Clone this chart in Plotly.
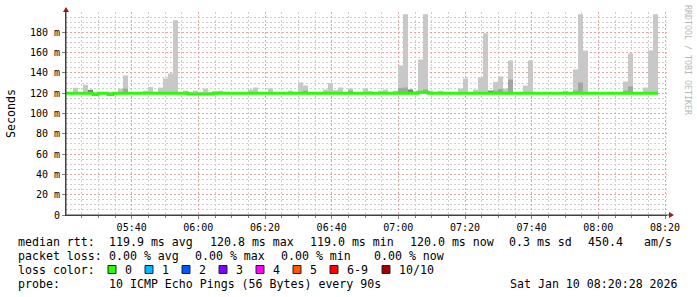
import plotly.graph_objects as go
from datetime import datetime, timedelta

# ---------------- data ----------------
FIRST_STEP = "2026-01-10 05:19:24"
STEP_SECONDS = 90
SMOKE_BASE_MS = 119.5

median_ms = [
    120.0, 120.0, 120.0, 120.0, 120.0, 120.0, 118.8, 120.0, 120.0, 118.8,
    120.0, 120.0, 120.0, 120.0, 120.0, 120.0, 120.0, 120.0, 120.0, 120.0,
    120.0, 120.0, 120.0, 120.0, 120.0, 119.2, 119.2, 119.2, 119.2, 119.2,
    120.0, 120.0, 120.0, 120.0, 120.0, 120.0, 120.0, 120.0, 120.0, 120.0,
    120.0, 120.0, 120.0, 120.0, 120.0, 120.0, 120.0, 120.0, 120.0, 120.0,
    120.0, 120.0, 120.0, 120.0, 120.0, 120.0, 120.0, 120.0, 120.0, 120.0,
    120.0, 120.0, 120.0, 120.0, 120.0, 120.0, 120.0, 120.0, 120.0, 120.0,
    120.0, 121.0, 121.0, 120.0, 120.0, 120.0, 120.0, 120.0, 120.0, 120.0,
    120.0, 120.0, 120.0, 120.0, 120.0, 120.0, 120.0, 120.0, 120.0, 120.0,
    120.0, 120.0, 120.0, 120.0, 120.0, 120.0, 120.0, 120.0, 120.0, 120.0,
    120.0, 120.0, 120.0, 120.0, 120.0, 120.0, 120.0, 120.0, 120.0, 120.0,
    120.0, 120.0, 120.0, 120.0, 120.0, 120.0, 120.0, 120.0, 120.0,
]

smoke_max_ms = [
    120.5, 120.5, 125.3, 120.5, 128.3, 123.3, 120.5, 120.5, 120.5, 120.5,
    120.5, 124.5, 137.5, 120.5, 120.5, 120.5, 122.5, 126.0, 120.5, 125.5,
    134.5, 139.5, 191.9, 120.5, 122.5, 120.5, 122.5, 120.5, 124.5, 120.5,
    122.0, 122.5, 120.5, 120.5, 120.5, 120.5, 120.5, 123.6, 125.6, 120.5,
    120.5, 124.6, 120.5, 120.5, 120.5, 122.5, 120.5, 130.6, 127.6, 120.5,
    120.5, 120.5, 123.6, 130.0, 123.0, 125.6, 120.5, 124.6, 120.5, 120.5,
    124.6, 122.0, 120.5, 122.5, 123.6, 120.5, 122.5, 147.4, 197.8, 123.6,
    122.0, 153.3, 197.8, 122.5, 120.5, 122.5, 120.5, 120.5, 120.5, 124.6,
    134.5, 120.5, 123.6, 135.5, 179.0, 122.5, 131.2, 136.5, 124.6, 152.3,
    120.5, 120.5, 127.6, 152.3, 120.5, 120.5, 120.5, 120.5, 120.5, 120.5,
    122.5, 120.5, 143.4, 197.8, 162.0, 120.5, 120.5, 120.5, 120.5, 120.5,
    120.5, 120.5, 131.5, 159.2, 120.5, 120.5, 125.6, 162.2, 197.8,
]

# inner (darker) smoke band: step index -> top value
mid_steps = [12, 48, 57, 67, 68, 72, 86, 87, 89, 102, 103, 112, 113]
mid_top_ms = [124.5, 122.5, 122.5, 125.0, 125.6, 123.6, 122.5, 124.0, 133.5,
              122.5, 130.6, 122.5, 126.6]
core_steps = [5, 69, 85]
core_top_ms = [123.3, 123.6, 122.5]

y_tick_vals = [0, 20, 40, 60, 80, 100, 120, 140, 160, 180]
y_tick_text = ["0", "20 m", "40 m", "60 m", "80 m", "100 m", "120 m",
               "140 m", "160 m", "180 m"]

loss_labels = ["0", "1", "2", "3", "4", "5", "6-9", "10/10"]
loss_colors = ["#26ff00", "#00b8ff", "#0059ff", "#7e00ff", "#ff00ff",
               "#ff5500", "#ff0000", "#a10000"]

# ---------------- geometry ----------------
W, H = 697, 297
L, R, T, B = 66, 30, 12, 82
PW, PH = W - L - R, H - T - B
PLOT_BOTTOM = H - B


def px(x):
    return (x - L) / PW


def py(y):
    return (PLOT_BOTTOM - y) / PH


t0 = datetime.strptime(FIRST_STEP, "%Y-%m-%d %H:%M:%S")
step = timedelta(seconds=STEP_SECONDS)
starts = [t0 + step * i for i in range(len(median_ms))]
centers = [s + step / 2 for s in starts]

fig = go.Figure()

fig.add_trace(go.Bar(
    x=centers, y=[v - SMOKE_BASE_MS for v in smoke_max_ms], base=SMOKE_BASE_MS,
    width=STEP_SECONDS * 1000, marker=dict(color="#c8c8c8", line_width=0),
    hoverinfo="skip"))
fig.add_trace(go.Bar(
    x=[centers[i] for i in mid_steps], y=[v - SMOKE_BASE_MS for v in mid_top_ms],
    base=SMOKE_BASE_MS, width=STEP_SECONDS * 1000,
    marker=dict(color="#a4a4a4", line_width=0), hoverinfo="skip"))
fig.add_trace(go.Bar(
    x=[centers[i] for i in core_steps], y=[v - SMOKE_BASE_MS for v in core_top_ms],
    base=SMOKE_BASE_MS, width=STEP_SECONDS * 1000,
    marker=dict(color="#7c7c7c", line_width=0), hoverinfo="skip"))

fig.add_trace(go.Scatter(
    x=starts + [starts[-1] + step], y=median_ms + [median_ms[-1]],
    mode="lines", line=dict(color="#26ff00", width=3, shape="hv"),
    hoverinfo="skip"))

mono = "DejaVu Sans Mono"
major_grid = "#e4a4a4"
minor_grid = "#cfcfcf"

fig.update_layout(
    width=W, height=H, margin=dict(l=L, r=R, t=T, b=B, pad=0),
    paper_bgcolor="white", plot_bgcolor="white", showlegend=False,
    barmode="overlay",
    xaxis=dict(
        type="date", range=["2026-01-10 05:20:18", "2026-01-10 08:20:36"],
        tickformat="%H:%M", dtick=1200000, tick0="2026-01-10 05:40:00",
        showgrid=True, gridcolor=major_grid, griddash="2px,2px", gridwidth=1,
        minor=dict(dtick=300000, tick0="2026-01-10 05:40:00", showgrid=True,
                   gridcolor=minor_grid, griddash="2px,2px", ticks="outside",
                   ticklen=2, tickcolor="#808080"),
        showline=True, linecolor="#404040", linewidth=1,
        ticks="outside", ticklen=3, tickcolor="#808080",
        tickfont=dict(family=mono, size=10, color="black"), zeroline=False,
        fixedrange=True),
    yaxis=dict(
        range=[0, 200], tickvals=y_tick_vals, ticktext=y_tick_text,
        showgrid=True, gridcolor=major_grid, griddash="2px,2px", gridwidth=1,
        minor=dict(dtick=5, tick0=0, showgrid=True, gridcolor=minor_grid,
                   griddash="2px,2px"),
        showline=True, linecolor="#404040", linewidth=1,
        ticks="outside", ticklen=3, tickcolor="#808080",
        tickfont=dict(family=mono, size=10, color="black"), zeroline=False,
        fixedrange=True),
)

ann = []
FS = 11.6


def text(x, y, s, anchor="left", size=FS, color="black", angle=0):
    ann.append(dict(xref="paper", yref="paper", x=px(x), y=py(y), text=s,
                    showarrow=False, xanchor=anchor, yanchor="middle",
                    textangle=angle,
                    font=dict(family=mono, size=size, color=color)))


# axis titles / side text
text(11, 114, "Seconds", anchor="center", angle=-90)
text(688, 60, "RRDTOOL / TOBI OETIKER", anchor="center", size=8.3,
     color="#b8b8b8", angle=90)

# legend lines
y1, y2, y3, y4 = 241.5, 255.5, 269.5, 283.5
for x, s in [(16, "median rtt:"), (107, "119.9 ms avg"), (208, "120.8 ms max"),
             (308, "119.0 ms min"), (408, "120.0 ms now"), (507, "0.3 ms sd"),
             (586, "450.4"), (642, "am/s")]:
    text(x, y1, s)
for x, s in [(16, "packet loss:"), (107, "0.00 % avg"), (193, "0.00 % max"),
             (279, "0.00 % min"), (372, "0.00 % now")]:
    text(x, y2, s)
text(16, y3, "loss color:")
sq_x = [108, 145, 182, 219, 256, 293, 330, 382]
shapes = []
for xs, lab, col in zip(sq_x, loss_labels, loss_colors):
    shapes.append(dict(type="rect", xref="paper", yref="paper",
                       x0=px(xs), x1=px(xs + 8), y0=py(y3 + 4), y1=py(y3 - 4),
                       fillcolor=col, line=dict(color="#202020", width=1)))
    text(xs + 15, y3, lab)
text(16, y4, "probe:")
text(107, y4, "10 ICMP Echo Pings (56 Bytes) every 90s")
text(680, y4, "Sat Jan 10 08:20:28 2026", anchor="right")

# axis arrows
arrow_col = "#a01818"
shapes.append(dict(type="line", xref="paper", yref="paper",
                   x0=px(66), x1=px(66), y0=py(215), y1=py(9),
                   line=dict(color="#404040", width=1)))
shapes.append(dict(type="line", xref="paper", yref="paper",
                   x0=px(66), x1=px(671), y0=py(215), y1=py(215),
                   line=dict(color="#404040", width=1)))
shapes.append(dict(type="path", xref="paper", yref="paper",
                   path=f"M {px(63)} {py(12)} L {px(69)} {py(12)} L {px(66)} {py(7)} Z",
                   fillcolor=arrow_col, line=dict(color=arrow_col, width=0)))
shapes.append(dict(type="path", xref="paper", yref="paper",
                   path=f"M {px(669)} {py(212)} L {px(669)} {py(218)} L {px(674)} {py(215)} Z",
                   fillcolor=arrow_col, line=dict(color=arrow_col, width=0)))

fig.update_layout(annotations=ann, shapes=shapes)

fig.write_html("out.html")
